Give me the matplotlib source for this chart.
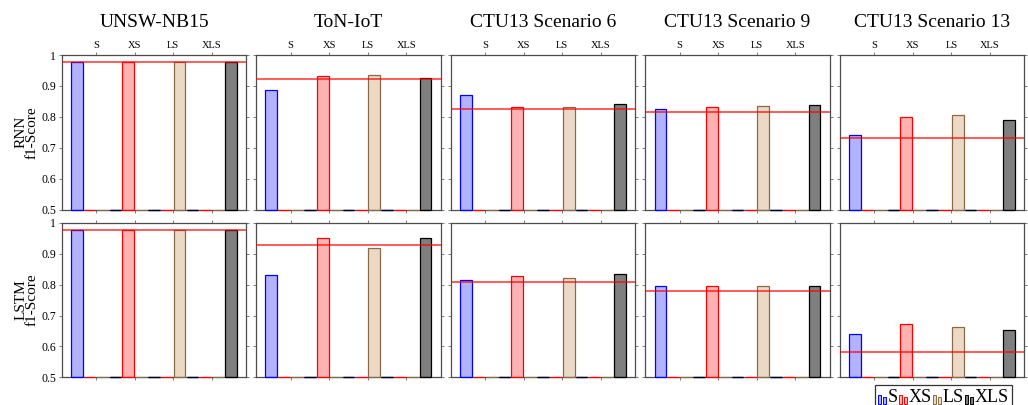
import matplotlib
matplotlib.use("Agg")
import matplotlib.pyplot as plt
from matplotlib.patches import Patch, Rectangle
from matplotlib.legend_handler import HandlerBase

plt.rcParams['font.family'] = ['Liberation Serif', 'DejaVu Serif']

# ---- data ----
datasets = ["UNSW-NB15", "ToN-IoT", "CTU13 Scenario 6", "CTU13 Scenario 9", "CTU13 Scenario 13"]
sizes = ["S", "XS", "LS", "XLS"]
models = ["RNN", "LSTM"]

# f1-score per dataset, order S, XS, LS, XLS
rnn_scores = [
    [0.979, 0.979, 0.979, 0.979],
    [0.887, 0.933, 0.935, 0.925],
    [0.871, 0.833, 0.833, 0.842],
    [0.827, 0.831, 0.835, 0.838],
    [0.741, 0.800, 0.806, 0.791],
]
lstm_scores = [
    [0.976, 0.976, 0.976, 0.976],
    [0.832, 0.952, 0.920, 0.951],
    [0.816, 0.828, 0.823, 0.835],
    [0.796, 0.797, 0.797, 0.797],
    [0.640, 0.672, 0.664, 0.654],
]
# red reference line per dataset
rnn_baseline = [0.979, 0.922, 0.825, 0.817, 0.730]
lstm_baseline = [0.976, 0.927, 0.809, 0.778, 0.582]

face_colors = [(0, 0, 1, 0.3), (1, 0, 0, 0.3), (0.75, 0.5, 0.25, 0.3), (0, 0, 0, 0.5)]
edge_colors = ["blue", "red", "#8b6a48", "black"]

YMIN = 0.5
step = 0.333
width = 0.30


class TwoBars(HandlerBase):
    # pgfplots-style ybar legend icon: two small bars
    def create_artists(self, legend, orig, xd, yd, w, h, fontsize, trans):
        bw = w / 2.4
        r1 = Rectangle((xd, yd), bw, h, fc=orig.get_facecolor(),
                       ec=orig.get_edgecolor(), lw=0.7, transform=trans)
        r2 = Rectangle((xd + bw * 1.4, yd), bw, h * 0.8, fc=orig.get_facecolor(),
                       ec=orig.get_edgecolor(), lw=0.7, transform=trans)
        return [r1, r2]


fig, axes = plt.subplots(2, 5, figsize=(10.28, 4.05), dpi=100)
fig.subplots_adjust(left=0.060, right=0.9964, top=0.864, bottom=0.0684,
                    wspace=0.054, hspace=0.086)

all_scores = [rnn_scores, lstm_scores]
all_base = [rnn_baseline, lstm_baseline]

for r in range(2):
    for c in range(5):
        ax = axes[r, c]
        scores = all_scores[r][c]
        for k in range(4):
            # series k only has a value in its own group, zero elsewhere
            vals = [scores[k] if g == k else 0.0 for g in range(4)]
            heights = [max(v - YMIN, 0.0) for v in vals]
            xs = [g + (k - 1.5) * step for g in range(4)]
            ax.bar(xs, heights, width, bottom=YMIN, color=face_colors[k],
                   edgecolor=edge_colors[k], linewidth=0.9, zorder=3,
                   clip_on=False)
        ax.axhline(all_base[r][c], color="red", alpha=0.75, lw=1.2, zorder=4)

        ax.set_xlim(-0.89, 3.89)
        ax.set_ylim(0.5, 1.0)
        ax.set_xticks(range(4))
        ax.set_yticks([0.5, 0.6, 0.7, 0.8, 0.9, 1.0])
        ax.tick_params(axis="both", direction="out", length=2.5, width=0.6,
                       color="0.4", pad=1.5)
        ax.tick_params(axis="x", top=True, bottom=True, labeltop=(r == 0),
                       labelbottom=False, labelsize=7.5)
        ax.tick_params(axis="y", left=True, right=True, labelleft=(c == 0),
                       labelsize=8.5)
        if r == 0:
            ax.set_xticklabels(sizes)
            ax.set_title(datasets[c], fontsize=14, y=1.0, pad=20)
        if c == 0:
            ax.set_yticklabels(["0.5", "0.6", "0.7", "0.8", "0.9", "1"])
            ax.set_ylabel(models[r] + "\nf1-Score", fontsize=11, linespacing=0.85)
            ax.yaxis.set_label_coords(-0.125, 0.5)
        for sp in ax.spines.values():
            sp.set_color("0.3")
            sp.set_linewidth(0.9)

handles = [Patch(facecolor=face_colors[k], edgecolor=edge_colors[k]) for k in range(4)]
leg = fig.legend(handles, sizes, loc="upper left", bbox_to_anchor=(0.851, 0.049),
                 ncol=4, fontsize=13, frameon=True, fancybox=False,
                 handler_map={Patch: TwoBars()}, handlelength=0.4, handleheight=0.35,
                 handletextpad=0.1, columnspacing=0.1, borderpad=0.2,
                 borderaxespad=0.0)
leg.get_frame().set_edgecolor("black")
leg.get_frame().set_linewidth(0.9)

fig.savefig("out.png", dpi=100)
